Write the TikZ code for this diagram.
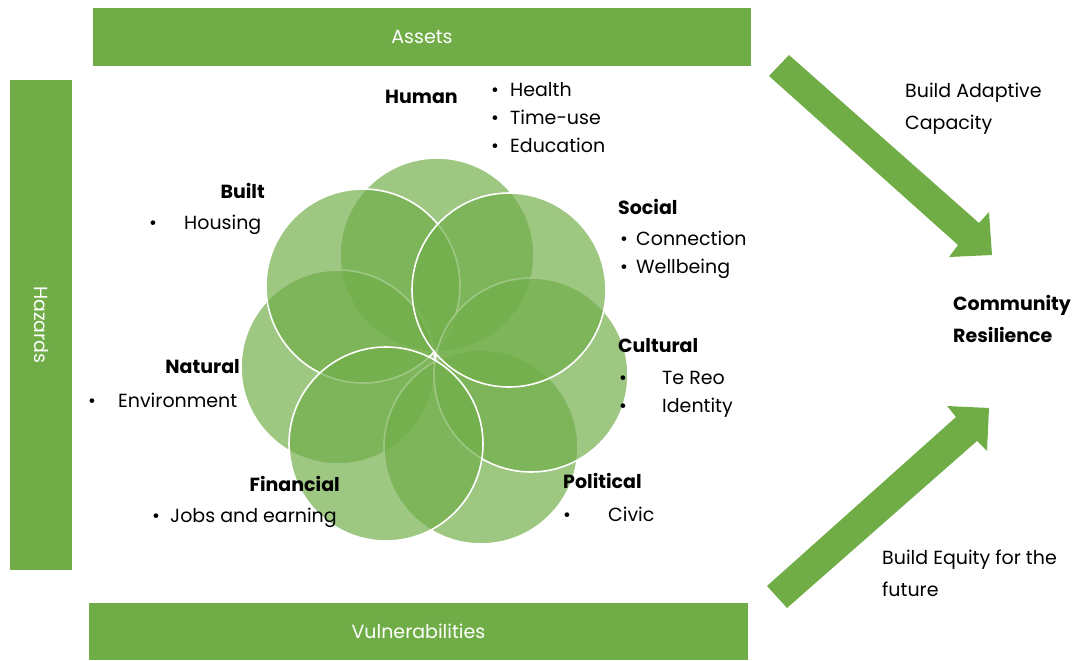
\documentclass[tikz,border=0pt]{standalone}
\usepackage{fontspec}
\setmainfont{Poppins}
\usepackage{xcolor}
\usepackage{tikz}
\usetikzlibrary{positioning}

\definecolor{leaf}{HTML}{70AD47}
\newcommand{\bul}[1]{\makebox[#1][l]{\textbullet}}

\begin{document}
\begin{tikzpicture}[
  x=1pt,y=-1pt,
  bar/.style={
    rectangle,fill=leaf,draw=none,text=white,
    font=\fontsize{19}{22}\selectfont
  },
  petal/.style={
    circle,fill=leaf,fill opacity=0.68,draw=white,
    line width=1.6pt,minimum size=194pt,inner sep=0pt
  },
  head/.style={font=\bfseries\fontsize{19}{22}\selectfont,inner sep=0pt},
  item/.style={font=\fontsize{19}{28}\selectfont,align=left,anchor=west,inner sep=0pt},
  note/.style={font=\fontsize{19}{32}\selectfont,align=left,anchor=west,inner sep=0pt}
]
\useasboundingbox (0,0) rectangle (1072,661);

% side bars
\node[bar,minimum width=658pt,minimum height=58pt] (assets) at (422,37) {Assets};
\node[bar,minimum width=490pt,minimum height=62pt,rotate=-90] (hazards) at (41,325) {Hazards};
\node[bar,minimum width=659pt,minimum height=57pt] (vuln) at (418.5,631.5) {Vulnerabilities};

% the seven capitals
\node[petal] (human) at (437,255) {};
\node[petal] (natural) at (338,367) {};
\node[petal] (political) at (481,447) {};
\node[petal] (built) at (363,286) {};
\node[petal] (cultural) at (531,375) {};
\node[petal] (social) at (509,290) {};
\node[petal] (financial) at (386,444) {};

% labels
\node[head,anchor=west] (humanlbl) at (385,97) {Human};
\node[item] (humanlist) at (491,118) {\bul{19pt}Health\\\bul{19pt}Time-use\\\bul{19pt}Education};

\node[head,anchor=east] (builtlbl) at (265,191) {Built};
\node[item] (builtlist) at (149,225) {\bul{35pt}Housing};

\node[head,anchor=west] (sociallbl) at (618,207) {Social};
\node[item] (sociallist) at (620,255) {\bul{16pt}Connection\\\bul{16pt}Wellbeing};

\node[head,anchor=west] (culturallbl) at (618,346) {Cultural};
\node[item] (culturallist) at (619,394) {\bul{43pt}Te Reo\\\bul{43pt}Identity};

\node[head,anchor=east] (naturallbl) at (240,367) {Natural};
\node[item] (naturallist) at (88,400) {\bul{30pt}Environment};

\node[head,anchor=east] (financiallbl) at (340,484) {Financial};
\node[item] (financiallist) at (152,518) {\bul{18pt}Jobs and earning};

\node[head,anchor=west] (politicallbl) at (563,481) {Political};
\node[item] (politicallist) at (563,514) {\bul{45pt}Civic};

% block arrows
\fill[leaf] (769,76) -- (789,55) -- (979,223) -- (989,212) -- (992,255)
  -- (949,257) -- (958,245) -- cycle;
\fill[leaf] (767,586) -- (956,417) -- (947,406) -- (989,408) -- (987,451)
  -- (977,441) -- (787,608) -- cycle;

\node[note] (adaptive) at (905,109) {Build Adaptive\\Capacity};
\node[note,font=\bfseries\fontsize{19}{32}\selectfont] (resilience) at (953,319) {Community\\Resilience};
\node[note] (equity) at (882,573) {Build Equity for the\\future};

\end{tikzpicture}
\end{document}
